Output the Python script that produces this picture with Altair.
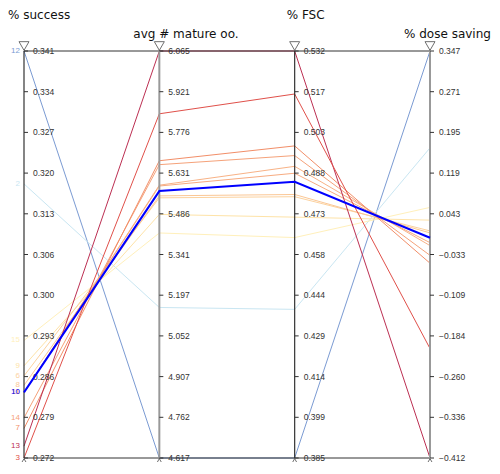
import altair as alt
import pandas as pd

# ---- data -------------------------------------------------------------
dims = ["% success", "avg # mature oo.", "% FSC", "% dose saving"]
line_ids = ["12", "2", "15", "9", "6", "8", "1", "11", "14", "7", "13", "3", "10"]
success = [0.3409, 0.3184, 0.2919, 0.2876, 0.2859, 0.2843, 0.2831, 0.2831, 0.2788, 0.2770, 0.2740, 0.2720, 0.2831]
avg_mature = [4.6174, 5.153, 5.418, 5.484, 5.543, 5.550, 5.588, 5.585, 5.661, 5.675, 6.0654, 5.842, 5.567]
fsc = [0.38467, 0.4385, 0.4645, 0.4719, 0.4793, 0.4801, 0.4903, 0.4878, 0.4942, 0.4977, 0.53207, 0.5165, 0.4847]
dose_saving = [0.34675, 0.1661, 0.0551, 0.0314, 0.0113, 0.0076, -0.0161, -0.0106, -0.0343, -0.0489, -0.41215, -0.208, -0.0015]
line_colors = ["#7b9bd3", "#c9e6f2", "#fff0bb", "#fee3a8", "#fcd29f", "#fbc795",
               "#f8b286", "#f7ab80", "#f5a27a", "#f28e68", "#bc2f52", "#e0504a", "#0000ff"]
highlight_id = "10"

columns = [success, avg_mature, fsc, dose_saving]
mins = [min(c) for c in columns]
maxs = [max(c) for c in columns]

rows = []
for j, lid in enumerate(line_ids):
    for i, col in enumerate(columns):
        rows.append({"id": lid, "axis": i, "value": col[j],
                     "norm": (col[j] - mins[i]) / (maxs[i] - mins[i])})
long_df = pd.DataFrame(rows)

label_df = long_df[long_df["axis"] == 0].copy()

tick_rows = []
for i in range(len(dims)):
    for k in range(11):
        tick_rows.append({"axis": i, "norm": k / 10,
                          "value": mins[i] + k / 10 * (maxs[i] - mins[i])})
tick_df = pd.DataFrame(tick_rows)

axes_df = pd.DataFrame({"axis": list(range(len(dims))), "name": dims,
                        "lo": [0] * 4, "hi": [1] * 4})
frame_df = pd.DataFrame({"x0": [0, 0], "x1": [3, 3], "y": [0, 1]})

# ---- scales -----------------------------------------------------------
xs = alt.Scale(domain=[0, 3], nice=False, zero=False)
ys = alt.Scale(domain=[0, 1], nice=False, zero=False)
cs = alt.Scale(domain=line_ids, range=line_colors)
FONT = "DejaVu Sans"
NFONT = "Liberation Sans"

X = lambda f: alt.X(f, scale=xs, axis=None)
Y = lambda f: alt.Y(f, scale=ys, axis=None)

lines = alt.Chart(long_df).transform_filter(
    alt.datum.id != highlight_id
).mark_line(strokeWidth=1).encode(
    x=X("axis:Q"), y=Y("norm:Q"), detail="id:N",
    color=alt.Color("id:N", scale=cs, legend=None),
)

hl_line = alt.Chart(long_df).transform_filter(
    alt.datum.id == highlight_id
).mark_line(strokeWidth=2, color="#0000ff").encode(
    x=X("axis:Q"), y=Y("norm:Q"), detail="id:N",
)

frame = alt.Chart(frame_df).mark_rule(color="#333333", strokeWidth=1).encode(
    x=X("x0:Q"), x2="x1:Q", y=Y("y:Q")
)

axis_dark = alt.Chart(axes_df).transform_filter(
    (alt.datum.axis == 0) | (alt.datum.axis == 2)
).mark_rule(color="#333333", strokeWidth=1.2).encode(
    x=X("axis:Q"), y=Y("lo:Q"), y2="hi:Q"
)
axis_gray = alt.Chart(axes_df).transform_filter(
    (alt.datum.axis == 1) | (alt.datum.axis == 3)
).mark_rule(color="#999999", strokeWidth=2).encode(
    x=X("axis:Q"), y=Y("lo:Q"), y2="hi:Q"
)

tick_marks = alt.Chart(tick_df).mark_rule(color="#333333", strokeWidth=1, x2Offset=4).encode(
    x=X("axis:Q"), x2="axis:Q", y=Y("norm:Q")
)

tick_labels = alt.Chart(tick_df).mark_text(
    align="left", baseline="middle", dx=9, fontSize=8.5, font=NFONT, color="#333333"
).encode(
    x=X("axis:Q"), y=Y("norm:Q"), text=alt.Text("value:Q", format=".3f")
)

id_labels = alt.Chart(label_df).mark_text(
    align="right", baseline="middle", dx=-4, fontSize=8, font=NFONT
).encode(
    x=X("axis:Q"), y=Y("norm:Q"), text="id:N",
    color=alt.Color("id:N", scale=cs, legend=None),
    order=alt.Order("value:Q", sort="descending"),
)

tri_top = alt.Chart(axes_df).mark_point(
    shape="triangle-down", filled=False, size=100, color="#333333", strokeWidth=1, yOffset=-5
).encode(x=X("axis:Q"), y=Y("hi:Q"))
tri_bot = alt.Chart(axes_df).mark_point(
    shape="triangle-up", filled=False, size=100, color="#333333", strokeWidth=1, yOffset=5
).encode(x=X("axis:Q"), y=Y("lo:Q"))

title_layers = []
title_dx = [-16, -26, -8, -26]
title_y = [-32, -13, -32, -13]
for i, name in enumerate(dims):
    title_layers.append(
        alt.Chart(axes_df).transform_filter(alt.datum.axis == i).mark_text(
            align="left", baseline="alphabetic", dx=title_dx[i], fontSize=12,
            font=FONT, color="#111111"
        ).encode(x=X("axis:Q"), y=alt.value(title_y[i]), text="name:N")
    )

chart = alt.layer(
    lines, frame, axis_dark, axis_gray, tick_marks, tick_labels,
    hl_line, id_labels, tri_top, tri_bot, *title_layers
).properties(
    width=406, height=407,
    padding={"left": 16, "top": 43, "right": 62, "bottom": 4},
    autosize=alt.AutoSizeParams(type="none"),
).configure_view(stroke=None)

chart.save("out.html", embed_options={"renderer": "svg", "actions": False})
